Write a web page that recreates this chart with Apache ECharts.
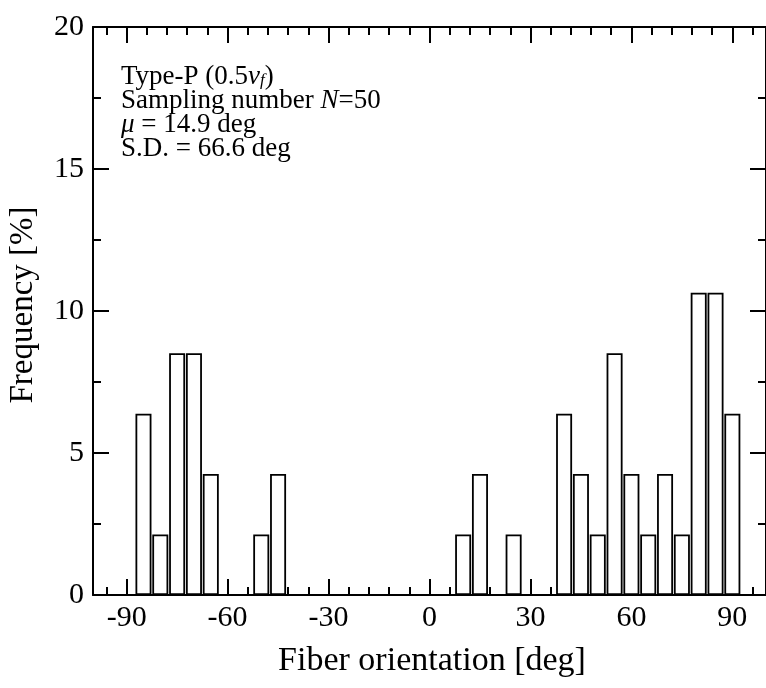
<!DOCTYPE html>
<html>
<head>
<meta charset="utf-8">
<script src="https://cdn.jsdelivr.net/npm/echarts@6/dist/echarts.min.js"></script>
<style>
  html, body { margin: 0; padding: 0; background: #fff; }
  #main { width: 766px; height: 688px; }
</style>
</head>
<body>
<div id="main"></div>
<script>
// bin centres [deg] and frequency [%]
const binCenters = [-85, -80, -75, -70, -65, -50, -45,
  10, 15, 25, 40, 45, 50, 55, 60, 65, 70, 75, 80, 85, 90];
const frequency = [6.38, 2.13, 8.51, 8.51, 4.26, 2.13, 4.26,
  2.13, 4.26, 2.13, 6.38, 4.26, 2.13, 8.51, 4.26, 2.13, 4.26, 2.13, 10.64, 10.64, 6.38];

// axis ticks
const xMajorTicks = [-90, -60, -30, 0, 30, 60, 90];
const xMinorTicks = [-96, -84, -78, -72, -66, -54, -48, -42, -36, -24, -18, -12, -6,
  6, 12, 18, 24, 36, 42, 48, 54, 66, 72, 78, 84, 96];

const font = 'Liberation Serif';
const chart = echarts.init(document.getElementById('main'));

const lineStyle = { color: '#000', width: 2 };

function xAx(pos, ticks, len, showLabel, showLine) {
  return {
    type: 'value', min: -100, max: 100, position: pos,
    axisLine: { show: showLine, onZero: false, lineStyle: lineStyle },
    axisTick: { show: true, inside: true, length: len, customValues: ticks, lineStyle: lineStyle },
    axisLabel: { show: showLabel, customValues: ticks, margin: 8,
      fontFamily: font, fontSize: 30, color: '#000' },
    splitLine: { show: false }
  };
}

function yAx(pos, showLabel) {
  return {
    type: 'value', min: 0, max: 20, interval: 5, position: pos,
    axisLine: { show: true, onZero: false, lineStyle: lineStyle },
    axisTick: { show: true, inside: true, length: 16, lineStyle: lineStyle },
    minorTick: { show: true, splitNumber: 2, length: 8, lineStyle: { color: '#000', width: 2 } },
    axisLabel: { show: showLabel, margin: 9, fontFamily: font, fontSize: 30, color: '#000' },
    splitLine: { show: false }
  };
}

const option = {
  backgroundColor: '#fff',
  animation: false,
  grid: { left: 93, right: -7, top: 27, bottom: 93, containLabel: false },
  xAxis: [
    xAx('bottom', xMajorTicks, 16, true, true),
    xAx('bottom', xMinorTicks, 8, false, false),
    xAx('top', xMajorTicks, 16, false, true),
    xAx('top', xMinorTicks, 8, false, false)
  ],
  yAxis: [yAx('left', true), yAx('right', false)],
  graphic: [
    {
      type: 'text', x: 121, y: 65,
      style: {
        text: 'Type-P (0.5{i|v}{sub|f})\nSampling number {i|N}=50\n{i|μ} = 14.9 deg\nS.D. = 66.6 deg',
        font: '27px "Liberation Serif"',
        lineHeight: 24,
        fill: '#000',
        rich: {
          i: { fontFamily: font, fontSize: 27, fontStyle: 'italic', lineHeight: 24, fill: '#000' },
          sub: { fontFamily: font, fontSize: 17, fontStyle: 'italic', lineHeight: 17,
            verticalAlign: 'bottom', fill: '#000' }
        }
      }
    },
    {
      type: 'text', x: 432, y: 644,
      style: { text: 'Fiber orientation [deg]', font: '34px "Liberation Serif"', fill: '#000',
        align: 'center', verticalAlign: 'top' }
    },
    {
      type: 'text', x: 7, y: 305, rotation: Math.PI / 2,
      style: { text: 'Frequency [%]', font: '33px "Liberation Serif"', fill: '#000',
        align: 'center', verticalAlign: 'top' }
    }
  ],
  series: [{
    type: 'bar',
    xAxisIndex: 0, yAxisIndex: 0,
    barWidth: 16,
    data: binCenters.map((c, i) => [c, frequency[i]]),
    itemStyle: { color: '#fff', borderColor: '#000', borderWidth: 1.8 }
  }]
};

chart.setOption(option);
</script>
</body>
</html>
